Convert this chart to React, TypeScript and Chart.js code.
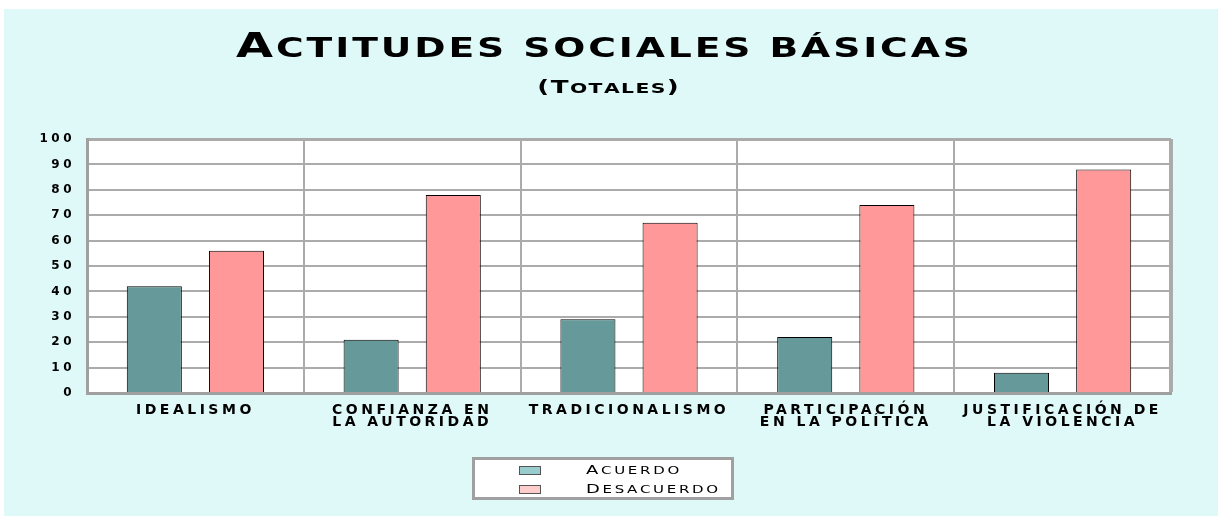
import React, { useEffect, useRef } from "react";
import { Chart, registerables } from "chart.js";

Chart.register(...registerables);

// ---- data ----
const categories: (string | string[])[] = [
  "IDEALISMO",
  ["CONFIANZA EN", "LA AUTORIDAD"],
  "TRADICIONALISMO",
  ["PARTICIPACIÓN", "EN LA POLÍTICA"],
  ["JUSTIFICACIÓN DE", "LA VIOLENCIA"],
];
const acuerdo = [42, 21, 29, 22, 8];
const desacuerdo = [56, 78, 67, 74, 88];
const seriesNames = ["Acuerdo", "Desacuerdo"];
const titleText = "Actitudes sociales básicas";
const subtitleText = "(Totales)";
const yMin = 0;
const yMax = 100;
const yStep = 10;

// ---- styles ----
const barColors = ["#669999", "#ff9999"];
const legendSwatchColors = ["#99cccc", "#ffcccc"];
const frameColor = "#a0a0a0";
const gridColor = "#ababab";
const bgColor = "#dff8f8";
const FONT = '"DejaVu Sans"';

// Draws text in "small caps" style: capitals at capPx, lower-case letters
// drawn as capitals at smallPx; horizontally widened by sx.
function drawCaps(
  ctx: CanvasRenderingContext2D,
  text: string,
  x: number,
  y: number,
  capPx: number,
  smallPx: number,
  weight: string,
  sx: number,
  spacing: number,
  align: "center" | "left"
) {
  ctx.save();
  (ctx as any).letterSpacing = "0px";
  ctx.textAlign = "left";
  ctx.textBaseline = "alphabetic";
  ctx.fillStyle = "#000";
  const parts = Array.from(text).map((ch) => {
    const isLower = ch !== ch.toUpperCase();
    const isSpace = ch === " ";
    const size = isLower || isSpace ? smallPx : capPx;
    const glyph = isLower ? ch.toUpperCase() : ch;
    const font = `${weight} ${size}px ${FONT}`;
    ctx.font = font;
    return { glyph, font, w: ctx.measureText(glyph).width };
  });
  const total =
    parts.reduce((s, p) => s + p.w, 0) + spacing * (parts.length - 1);
  ctx.translate(x, y);
  ctx.scale(sx, 1);
  let cx = align === "center" ? -total / 2 : 0;
  for (const p of parts) {
    ctx.font = p.font;
    ctx.fillText(p.glyph, cx, 0);
    cx += p.w + spacing;
  }
  ctx.restore();
}

const decorPlugin = {
  id: "decor",
  beforeDraw(chart: any) {
    const { ctx, chartArea } = chart;
    (ctx as any).letterSpacing = "3.5px";
    ctx.save();
    ctx.fillStyle = "#ffffff";
    ctx.fillRect(
      chartArea.left,
      chartArea.top,
      chartArea.right - chartArea.left,
      chartArea.bottom - chartArea.top
    );
    ctx.restore();
  },
  afterDraw(chart: any) {
    const ctx: CanvasRenderingContext2D = chart.ctx;
    (ctx as any).letterSpacing = "0px";
    const cx = chart.width / 2 - 5;
    // title & subtitle
    drawCaps(ctx, titleText, cx - 3, 48, 33, 26, "bold", 1.45, 2, "center");
    drawCaps(ctx, subtitleText, cx + 2, 84, 18, 14, "bold", 1.45, 1, "center");

    // legend
    const boxW = 262;
    const boxH = 43;
    const boxX = cx - 3 - boxW / 2;
    const boxY = 448;
    ctx.save();
    ctx.fillStyle = "#ffffff";
    ctx.fillRect(boxX, boxY, boxW, boxH);
    ctx.strokeStyle = frameColor;
    ctx.lineWidth = 3;
    ctx.strokeRect(boxX + 1.5, boxY + 1.5, boxW - 3, boxH - 3);
    ctx.restore();
    chart.data.datasets.forEach((ds: any, i: number) => {
      const sy = boxY + 9 + i * 19;
      ctx.save();
      ctx.fillStyle = legendSwatchColors[i];
      ctx.fillRect(boxX + 47, sy, 22, 9);
      ctx.strokeStyle = "#555";
      ctx.lineWidth = 1;
      ctx.strokeRect(boxX + 47.5, sy + 0.5, 21, 8);
      ctx.restore();
      drawCaps(ctx, ds.label, boxX + 114, sy + 8, 12, 10, "normal", 1.5, 1.8, "left");
    });
  },
};

export default function App() {
  const canvasRef = useRef<HTMLCanvasElement | null>(null);

  useEffect(() => {
    if (!canvasRef.current) return;
    Chart.defaults.font.family = FONT;
    const chart = new Chart(canvasRef.current, {
      type: "bar",
      data: {
        labels: categories,
        datasets: [
          {
            label: seriesNames[0],
            data: acuerdo,
            backgroundColor: barColors[0],
            borderColor: "#000",
            borderWidth: 1,
            categoryPercentage: 0.758,
            barPercentage: 0.67,
          },
          {
            label: seriesNames[1],
            data: desacuerdo,
            backgroundColor: barColors[1],
            borderColor: "#000",
            borderWidth: 1,
            categoryPercentage: 0.758,
            barPercentage: 0.67,
          },
        ],
      },
      options: {
        animation: false,
        responsive: true,
        maintainAspectRatio: false,
        layout: { padding: { top: 130, right: 47, bottom: 0, left: 0 } },
        plugins: {
          legend: { display: false },
          title: { display: false },
          tooltip: { enabled: false },
        },
        scales: {
          x: {
            offset: true,
            grid: {
              offset: true,
              drawTicks: false,
              color: gridColor,
              lineWidth: (c: any) => (c.type === "scale" ? 4 : 2),
            },
            border: { display: true, width: 3, color: frameColor },
            ticks: {
              color: "#000",
              font: { size: 14, weight: "bold", lineHeight: 0.86 },
              padding: 11,
              autoSkip: false,
              maxRotation: 0,
              minRotation: 0,
            },
            afterFit: (scale: any) => {
              scale.height = 123;
            },
          },
          y: {
            min: yMin,
            max: yMax,
            ticks: {
              stepSize: yStep,
              color: "#000",
              font: { size: 12, weight: "bold" },
              padding: 12,
            },
            grid: {
              drawTicks: false,
              color: gridColor,
              lineWidth: (c: any) => (c.tick && c.tick.value === yMax ? 3 : 2),
            },
            border: { display: true, width: 3, color: frameColor },
            afterFit: (scale: any) => {
              scale.width = 83;
            },
          },
        },
      },
      plugins: [decorPlugin],
    } as any);
    return () => chart.destroy();
  }, []);

  return (
    <div
      style={{
        position: "absolute",
        left: 4,
        top: 9,
        width: 1214,
        height: 507,
        background: bgColor,
      }}
    >
      <canvas ref={canvasRef} />
    </div>
  );
}
